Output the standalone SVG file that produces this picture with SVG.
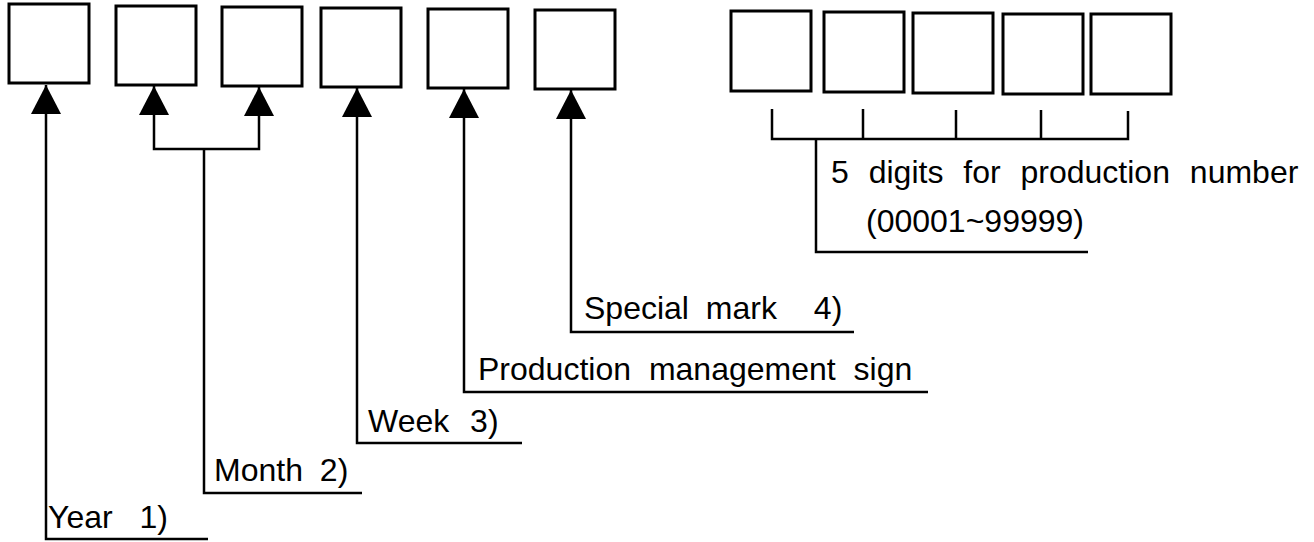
<svg xmlns="http://www.w3.org/2000/svg" width="1314" height="542" viewBox="0 0 1314 542">
<style>
.box{fill:#fff;stroke:#000;stroke-width:3}
.ln{fill:none;stroke:#000;stroke-width:2.5}
.lbl{font-family:"Liberation Sans",Arial,sans-serif;font-size:32px;fill:#000}
</style>
<defs>
<marker id="tri" viewBox="0 0 29 30" refX="29" refY="15" markerWidth="29" markerHeight="30" markerUnits="userSpaceOnUse" orient="auto">
<polygon points="0,0 29,15 0,30" fill="#000"/>
</marker>
</defs>
<rect width="1314" height="542" fill="#fff"/>
<g id="year-box"><rect class="box" x="9" y="4" width="80" height="79"/></g>
<g id="month-box-1"><rect class="box" x="116" y="6" width="80" height="79"/></g>
<g id="month-box-2"><rect class="box" x="222" y="7" width="80" height="79"/></g>
<g id="week-box"><rect class="box" x="321" y="8" width="80" height="79"/></g>
<g id="production-box"><rect class="box" x="428" y="9" width="80" height="79"/></g>
<g id="special-box"><rect class="box" x="535" y="10" width="80" height="79"/></g>
<g id="number-boxes">
<rect class="box" x="731" y="11" width="80" height="80"/>
<rect class="box" x="824" y="12" width="80" height="80"/>
<rect class="box" x="913" y="13" width="80" height="80"/>
<rect class="box" x="1003" y="14" width="80" height="80"/>
<rect class="box" x="1091" y="14" width="80" height="80"/>
</g>
<g id="connectors">
<path class="ln" d="M208 539 H46 V85" marker-end="url(#tri)"/>
<path class="ln" d="M362 493 H204 V149"/>
<path class="ln" d="M204 149 H154 V86" marker-end="url(#tri)"/>
<path class="ln" d="M204 149 H259 V87" marker-end="url(#tri)"/>
<path class="ln" d="M522 443 H357 V88" marker-end="url(#tri)"/>
<path class="ln" d="M928 392 H464 V89" marker-end="url(#tri)"/>
<path class="ln" d="M854 332 H571 V90" marker-end="url(#tri)"/>
<path class="ln" d="M772 109 V139 H1128 V111 M863 109 V139 M956 110 V139 M1041 110 V139"/>
<path class="ln" d="M816 139 V252 H1088"/>
</g>
<g id="labels">
<text class="lbl" x="48" y="528" word-spacing="18">Year 1)</text>
<text class="lbl" x="214" y="481" word-spacing="8">Month 2)</text>
<text class="lbl" x="368" y="432" word-spacing="12">Week 3)</text>
<text class="lbl" x="478" y="380" word-spacing="9">Production management sign</text>
<text class="lbl" x="584" y="319" word-spacing="8">Special mark <tspan dx="20">4)</tspan></text>
<text class="lbl" x="831" y="183" word-spacing="11">5 digits for production number</text>
<text class="lbl" x="866" y="232">(00001~99999)</text>
</g>
</svg>
